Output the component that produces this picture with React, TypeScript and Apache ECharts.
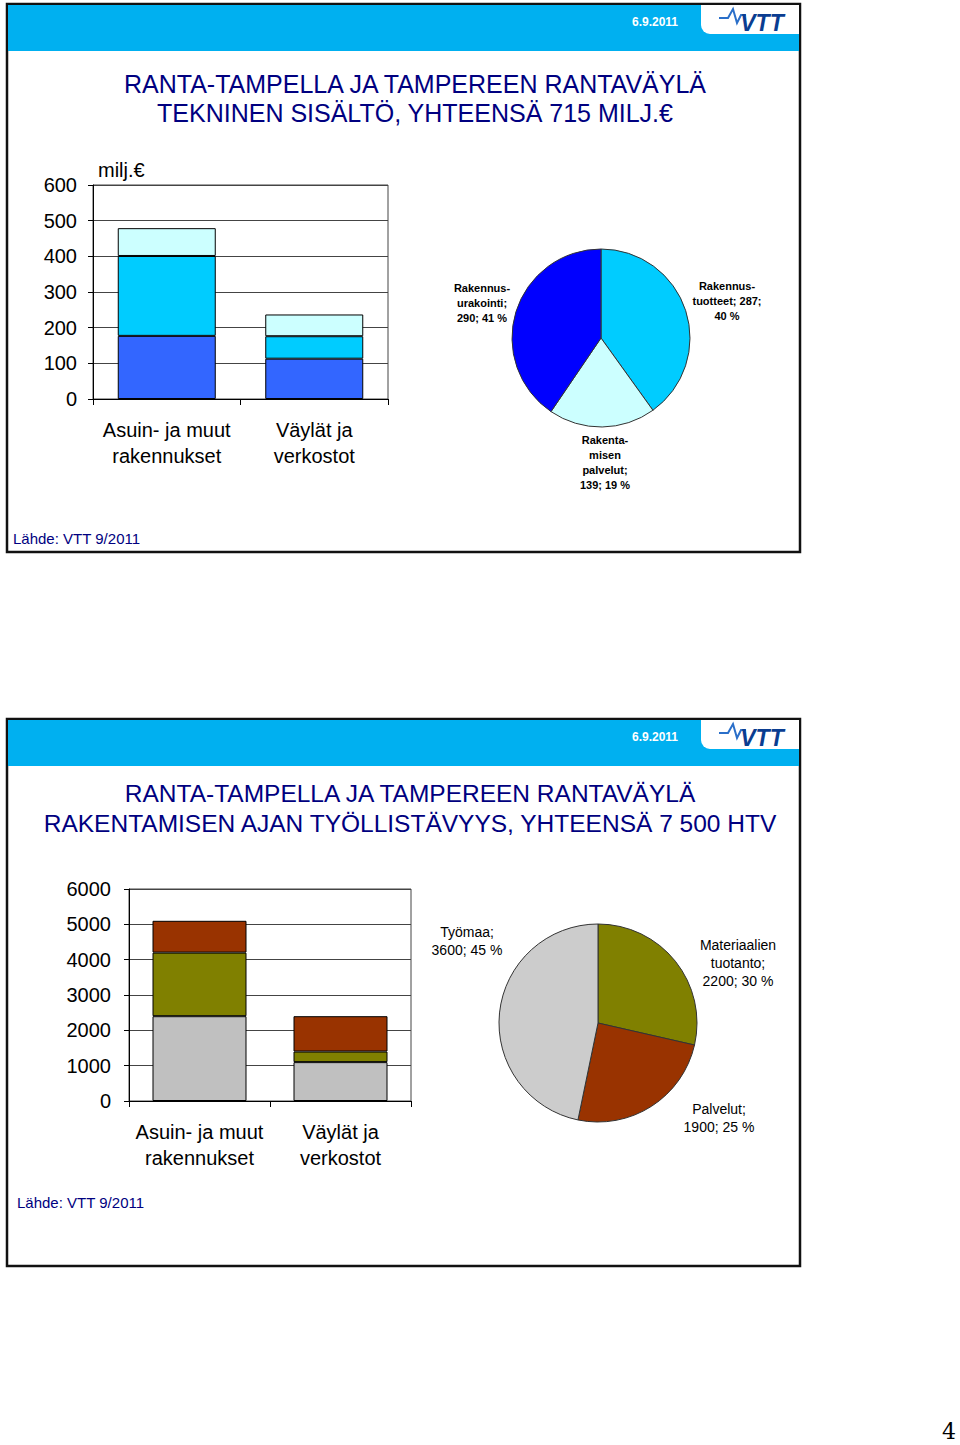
import React, { useEffect, useRef } from "react";
import * as echarts from "echarts";

// ---------- data ----------
const categories = ["Asuin- ja muut\nrakennukset", "Väylät ja\nverkostot"];

// Chart 1 (milj. €)
const c1Urakointi = [177, 113];
const c1Tuotteet = [224, 63];
const c1Palvelut = [78, 61];
const pie1Names = ["Rakennus-\ntuotteet", "Rakenta-\nmisen\npalvelut", "Rakennus-\nurakointi"];
const pie1Values = [287, 139, 290];
const pie1Pct = [40, 19, 41];
const pie1SepA = [" ", "\n", "\n"];
const pie1SepB = ["\n", " ", " "];

// Chart 2 (HTV)
const c2Tyomaa = [2400, 1100];
const c2Materiaalit = [1800, 300];
const c2Palvelut = [900, 1000];
const pie2Names = ["Materiaalien\ntuotanto", "Palvelut", "Työmaa"];
const pie2Values = [2200, 1900, 3600];
const pie2Pct = [30, 25, 45];

const title1 = ["RANTA-TAMPELLA JA TAMPEREEN RANTAVÄYLÄ", "TEKNINEN SISÄLTÖ, YHTEENSÄ 715 MILJ.€"];
const title2 = ["RANTA-TAMPELLA JA TAMPEREEN RANTAVÄYLÄ", "RAKENTAMISEN AJAN TYÖLLISTÄVYYS, YHTEENSÄ 7 500 HTV"];
const dateText = "6.9.2011";
const sourceText = "Lähde: VTT 9/2011";

const FONT = 'Arial, "Liberation Sans", Helvetica, sans-serif';
const NAVY = "#000080";
const HEADER = "#00B0F0";

function slideChrome(top: number, height: number) {
  return [
    { type: "rect", shape: { x: 7, y: top, width: 793, height }, style: { fill: "#fff", stroke: "#111", lineWidth: 2.5 }, z: -10 },
    { type: "rect", shape: { x: 8, y: top + 1, width: 791, height: 46 }, style: { fill: HEADER }, z: -9 },
    { type: "rect", shape: { x: 701, y: top + 1, width: 98, height: 29, r: [0, 0, 0, 9] }, style: { fill: "#fff" }, z: -8 },
    { type: "text", x: 655, y: top + 18, style: { text: dateText, fill: "#fff", font: `bold 12px ${FONT}`, align: "center", verticalAlign: "middle" } },
    { type: "polyline", shape: { points: [[719, top + 14], [728, top + 14], [733, top + 5], [737, top + 19], [741, top + 11], [746, top + 11]] }, style: { stroke: "#2a6fc9", lineWidth: 2, fill: "none" } },
    { type: "text", x: 762, y: top + 19, style: { text: "VTT", fill: "#0a3d91", font: `italic bold 23px ${FONT}`, align: "center", verticalAlign: "middle" } },
  ];
}

export default function App() {
  const ref = useRef<HTMLDivElement>(null);
  useEffect(() => {
    if (!ref.current) return;
    const chart = echarts.init(ref.current, null, { renderer: "svg" });

    const axisLabelCat = { fontSize: 20, color: "#000", fontFamily: FONT, lineHeight: 26, margin: 18, interval: 0 };
    const yLabel = (m: number) => ({ fontSize: 20, color: "#000", fontFamily: FONT, margin: m, formatter: (v: number) => String(v) });
    const barStyle = (c: string) => ({ color: c, borderColor: "#000", borderWidth: 1 });

    const pie1Pos = [[727, 301], [605, 462], [482, 303]];
    const pie2Pos = [[738, 963], [719, 1118], [467, 941]];

    const option: any = {
      animation: false,
      backgroundColor: "#fff",
      grid: [
        { left: 93, top: 185, width: 295, height: 214, show: true, borderColor: "#444", borderWidth: 1 },
        { left: 129, top: 889, width: 282, height: 212, show: true, borderColor: "#444", borderWidth: 1 },
      ],
      xAxis: [0, 1].map((i) => ({
        gridIndex: i,
        type: "category",
        data: categories,
        axisLine: { lineStyle: { color: "#000", width: 1 } },
        axisTick: { show: true, length: 6, lineStyle: { color: "#000" } },
        axisLabel: axisLabelCat,
      })),
      yAxis: [
        {
          gridIndex: 0, type: "value", min: 0, max: 600, interval: 100,
          axisLine: { show: true, lineStyle: { color: "#000" } },
          axisTick: { show: true, length: 5, lineStyle: { color: "#000" } },
          splitLine: { lineStyle: { color: "#444" } },
          axisLabel: yLabel(16),
        },
        {
          gridIndex: 1, type: "value", min: 0, max: 6000, interval: 1000,
          axisLine: { show: true, lineStyle: { color: "#000" } },
          axisTick: { show: true, length: 5, lineStyle: { color: "#000" } },
          splitLine: { lineStyle: { color: "#444" } },
          axisLabel: yLabel(18),
        },
      ],
      series: [
        { type: "bar", name: "Rakennusurakointi", xAxisIndex: 0, yAxisIndex: 0, stack: "a", data: c1Urakointi, barWidth: 98, itemStyle: barStyle("#3366FF"), silent: true },
        { type: "bar", name: "Rakennustuotteet", xAxisIndex: 0, yAxisIndex: 0, stack: "a", data: c1Tuotteet, barWidth: 98, itemStyle: barStyle("#00CCFF"), silent: true },
        { type: "bar", name: "Rakentamisen palvelut", xAxisIndex: 0, yAxisIndex: 0, stack: "a", data: c1Palvelut, barWidth: 98, itemStyle: barStyle("#CCFFFF"), silent: true },
        { type: "bar", name: "Työmaa", xAxisIndex: 1, yAxisIndex: 1, stack: "b", data: c2Tyomaa, barWidth: 94, itemStyle: barStyle("#C0C0C0"), silent: true },
        { type: "bar", name: "Materiaalien tuotanto", xAxisIndex: 1, yAxisIndex: 1, stack: "b", data: c2Materiaalit, barWidth: 94, itemStyle: barStyle("#808000"), silent: true },
        { type: "bar", name: "Palvelut", xAxisIndex: 1, yAxisIndex: 1, stack: "b", data: c2Palvelut, barWidth: 94, itemStyle: barStyle("#993300"), silent: true },
        {
          type: "pie", center: [601, 338], radius: 89, startAngle: 90, clockwise: true, silent: true,
          data: pie1Names.map((n, i) => ({ name: n, value: pie1Values[i], itemStyle: { color: ["#00CCFF", "#CCFFFF", "#0000FF"][i] } })),
          itemStyle: { borderColor: "#333", borderWidth: 1 },
          label: {
            show: true, color: "#000", fontFamily: FONT, fontSize: 11, fontWeight: "bold", lineHeight: 15, align: "center",
            formatter: (p: any) => `${pie1Names[p.dataIndex]};${pie1SepA[p.dataIndex]}${pie1Values[p.dataIndex]};${pie1SepB[p.dataIndex]}${pie1Pct[p.dataIndex]} %`,
          },
          labelLine: { show: false },
          labelLayout: (p: any) => ({ x: pie1Pos[p.dataIndex][0], y: pie1Pos[p.dataIndex][1], align: "center", verticalAlign: "middle" }),
        },
        {
          type: "pie", center: [598, 1023], radius: 99, startAngle: 90, clockwise: true, silent: true,
          data: pie2Names.map((n, i) => ({ name: n, value: pie2Values[i], itemStyle: { color: ["#808000", "#993300", "#CCCCCC"][i] } })),
          itemStyle: { borderColor: "#333", borderWidth: 1 },
          label: {
            show: true, color: "#000", fontFamily: FONT, fontSize: 14, lineHeight: 18, align: "center",
            formatter: (p: any) => `${pie2Names[p.dataIndex]};\n${pie2Values[p.dataIndex]}; ${pie2Pct[p.dataIndex]} %`,
          },
          labelLine: { show: false },
          labelLayout: (p: any) => ({ x: pie2Pos[p.dataIndex][0], y: pie2Pos[p.dataIndex][1], align: "center", verticalAlign: "middle" }),
        },
      ],
      graphic: [
        ...slideChrome(4, 548),
        ...slideChrome(719, 547),
        { type: "text", x: 415, y: 84, style: { text: title1[0], fill: NAVY, font: `25px ${FONT}`, align: "center", verticalAlign: "middle" } },
        { type: "text", x: 415, y: 113, style: { text: title1[1], fill: NAVY, font: `25px ${FONT}`, align: "center", verticalAlign: "middle" } },
        { type: "text", x: 410, y: 793, style: { text: title2[0], fill: NAVY, font: `24.5px ${FONT}`, align: "center", verticalAlign: "middle" } },
        { type: "text", x: 410, y: 823, style: { text: title2[1], fill: NAVY, font: `24.5px ${FONT}`, align: "center", verticalAlign: "middle" } },
        { type: "text", x: 98, y: 170, style: { text: "milj.€", fill: "#000", font: `20px ${FONT}`, align: "left", verticalAlign: "middle" } },
        { type: "text", x: 13, y: 538, style: { text: sourceText, fill: NAVY, font: `15px ${FONT}`, align: "left", verticalAlign: "middle" } },
        { type: "text", x: 17, y: 1202, style: { text: sourceText, fill: NAVY, font: `15px ${FONT}`, align: "left", verticalAlign: "middle" } },
        { type: "text", x: 949, y: 1431, style: { text: "4", fill: "#000", font: `22px "DejaVu Serif", "Liberation Serif", serif`, align: "center", verticalAlign: "middle" } },
      ],
    };
    chart.setOption(option);
    return () => chart.dispose();
  }, []);

  return <div ref={ref} style={{ position: "absolute", left: 0, top: 0, width: 960, height: 1445 }} />;
}
